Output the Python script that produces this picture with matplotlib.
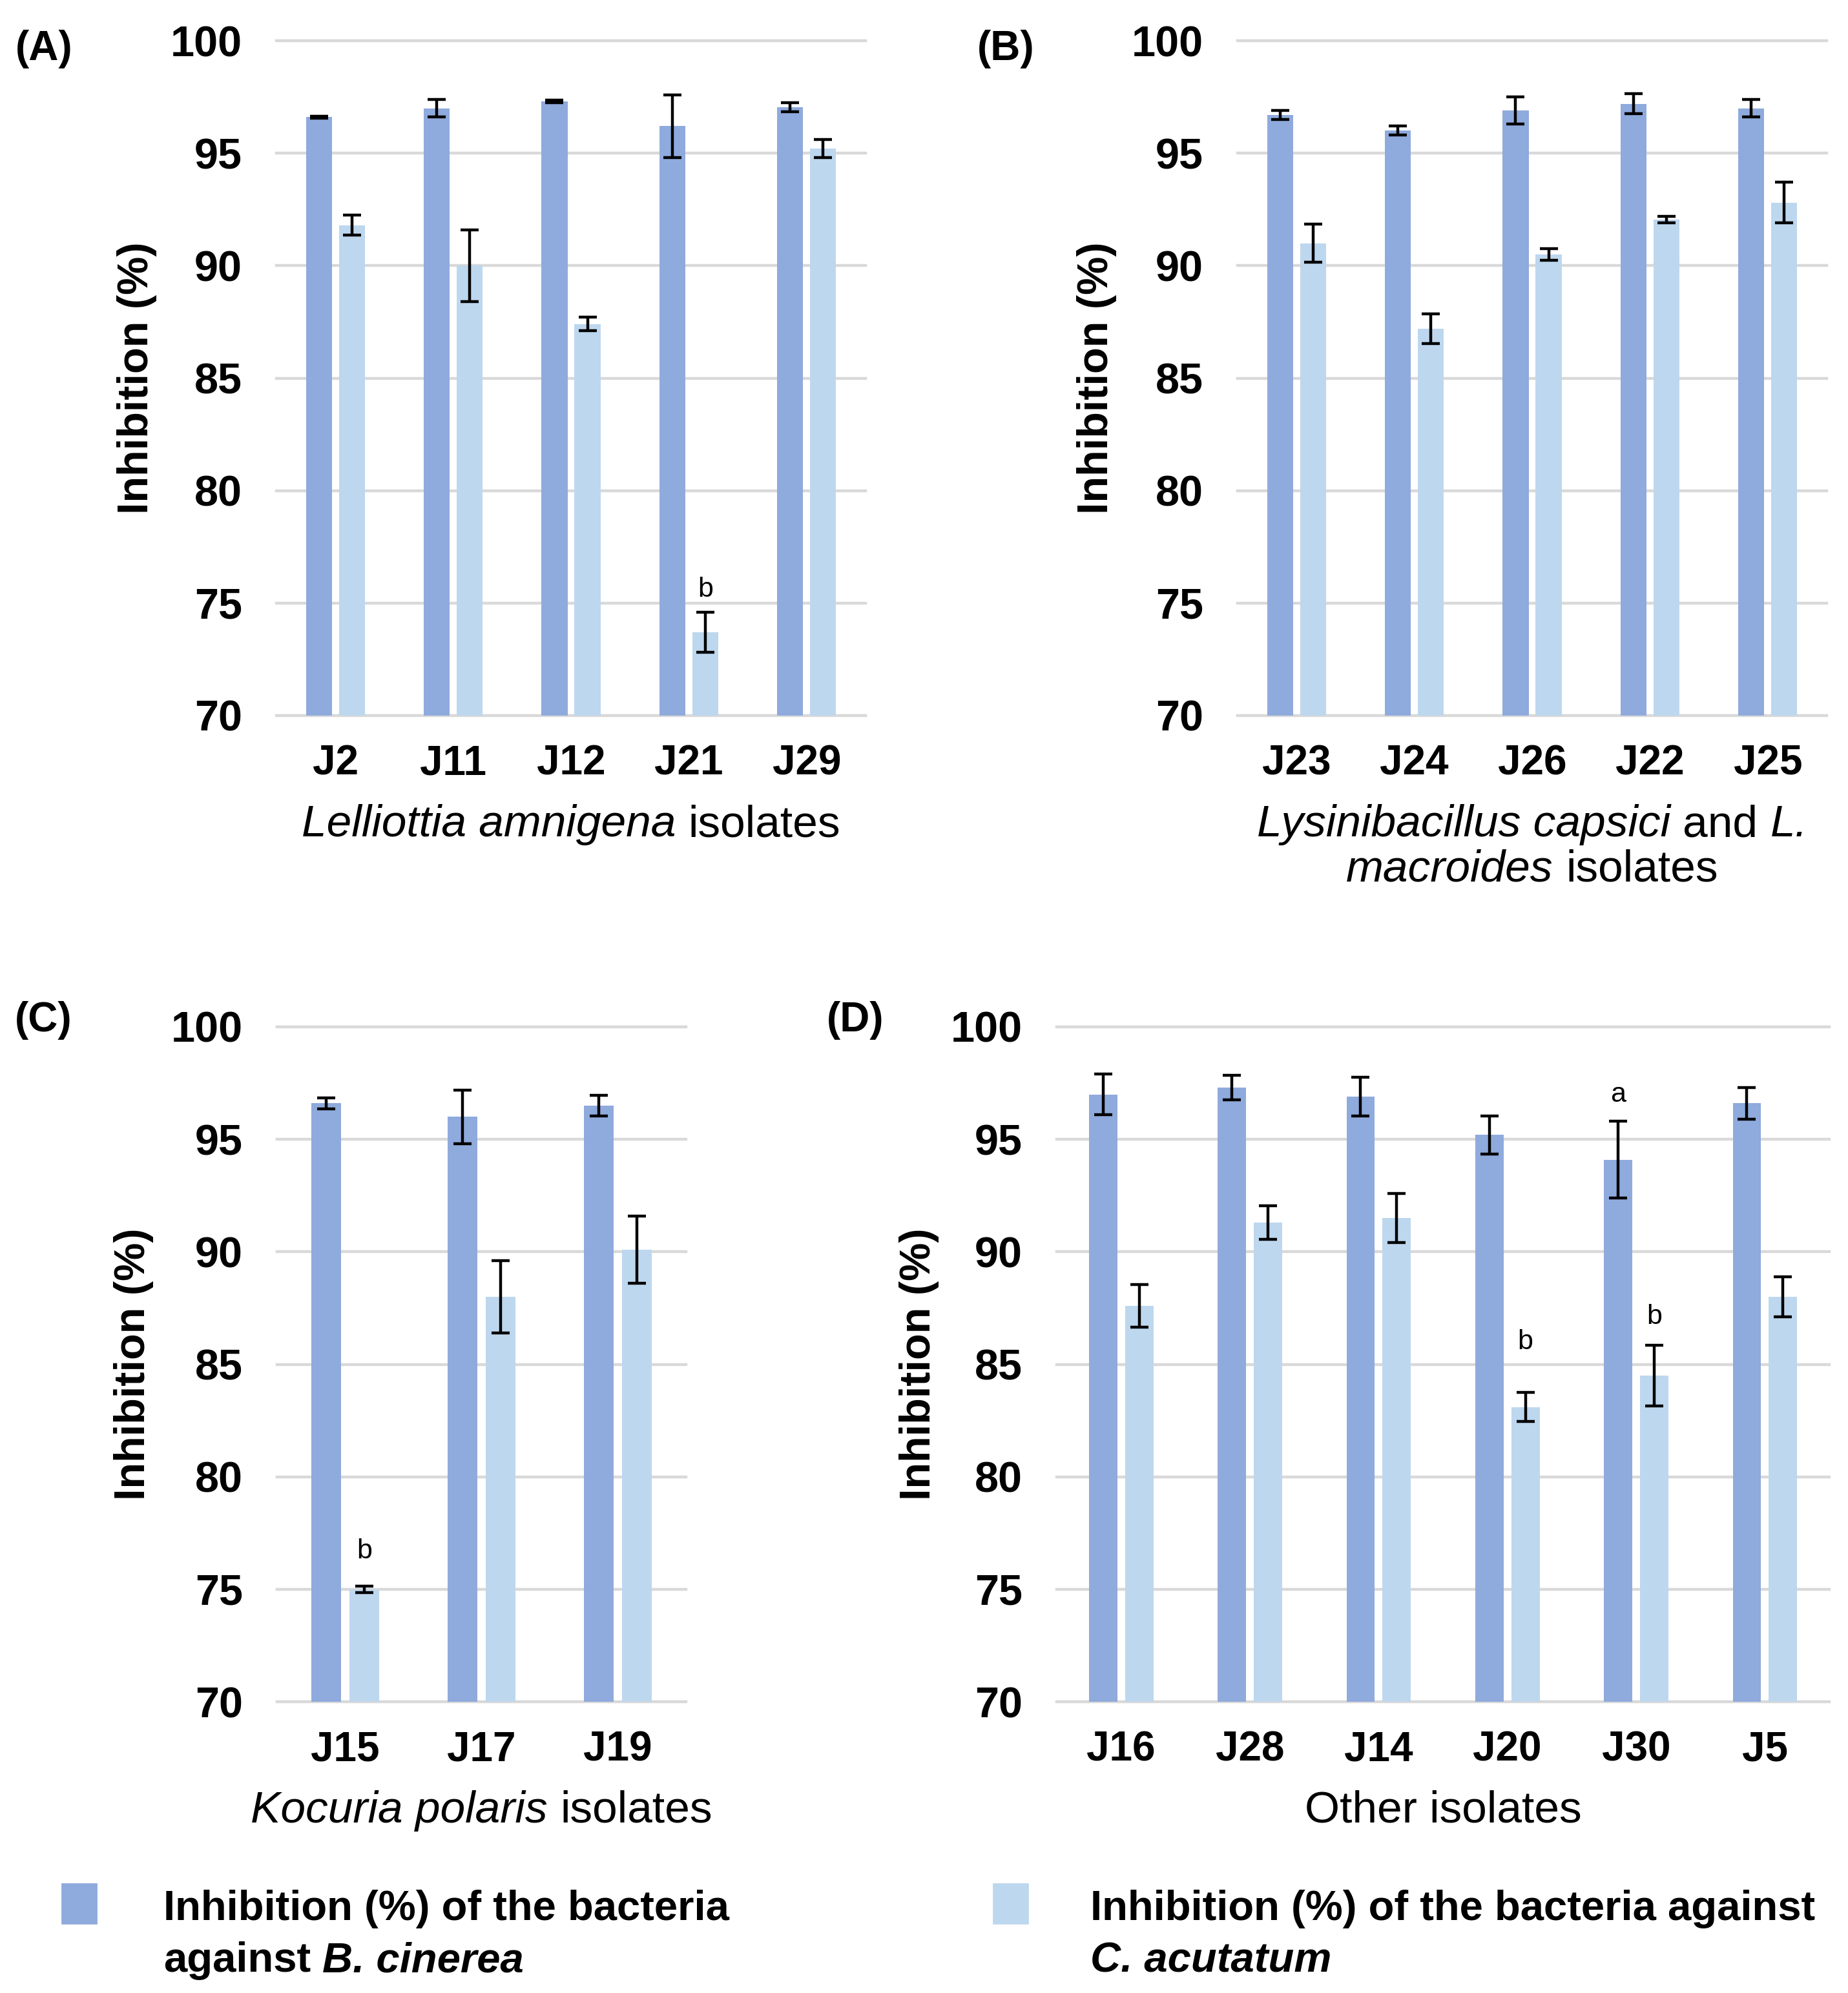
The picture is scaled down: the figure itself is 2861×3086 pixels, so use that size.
import matplotlib
matplotlib.use("Agg")
import matplotlib.pyplot as plt
import numpy as np
from matplotlib import font_manager
from matplotlib.patches import Rectangle

W_PX, H_PX, DPI = 2861, 3086, 200

DARK = "#8FAADC"
LIGHT = "#BDD7EE"
GRID = "#D9D9D9"

names = {f.name for f in font_manager.fontManager.ttflist}
SANS = "Liberation Sans"
NARROW = "Liberation Sans Narrow" if "Liberation Sans Narrow" in names else SANS

# ---- data ----
a_isolates = ["J2", "J11", "J12", "J21", "J29"]
a_bc = [96.6, 97.0, 97.3, 96.2, 97.05]
a_bc_err = [0.05, 0.4, 0.05, 1.4, 0.2]
a_ca = [91.8, 90.0, 87.4, 73.7, 95.2]
a_ca_err = [0.45, 1.6, 0.3, 0.9, 0.4]
a_letters = [(3, 1, "b", 75.6)]

b_isolates = ["J23", "J24", "J26", "J22", "J25"]
b_bc = [96.7, 96.0, 96.9, 97.2, 97.0]
b_bc_err = [0.2, 0.2, 0.6, 0.45, 0.4]
b_ca = [91.0, 87.2, 90.5, 92.05, 92.8]
b_ca_err = [0.85, 0.65, 0.25, 0.15, 0.9]
b_letters = []

c_isolates = ["J15", "J17", "J19"]
c_bc = [96.6, 96.0, 96.5]
c_bc_err = [0.25, 1.2, 0.45]
c_ca = [75.0, 88.0, 90.1]
c_ca_err = [0.15, 1.6, 1.5]
c_letters = [(0, 1, "b", 76.7)]

d_isolates = ["J16", "J28", "J14", "J20", "J30", "J5"]
d_bc = [97.0, 97.3, 96.9, 95.2, 94.1, 96.6]
d_bc_err = [0.9, 0.55, 0.85, 0.85, 1.7, 0.7]
d_ca = [87.6, 91.3, 91.5, 83.1, 84.5, 88.0]
d_ca_err = [0.95, 0.75, 1.1, 0.65, 1.35, 0.9]
d_letters = [(3, 1, "b", 86.0), (4, 0, "a", 97.0), (4, 1, "b", 87.1)]

a_xlabel = [[("Lelliottia amnigena", "italic"), ("isolates", "normal")]]
b_xlabel = [[("Lysinibacillus capsici", "italic"), ("and", "normal"), ("L.", "italic")],
            [("macroides", "italic"), ("isolates", "normal")]]
c_xlabel = [[("Kocuria polaris", "italic"), ("isolates", "normal")]]
d_xlabel = [[("Other isolates", "normal")]]

bc_label = [[("Inhibition (%) of the bacteria", "normal")],
            [("against", "normal"), ("B. cinerea", "italic")]]
ca_label = [[("Inhibition (%) of the bacteria against", "normal")],
            [("C. acutatum", "italic")]]


def fx(x):
    return x / W_PX


def fy(y):
    return 1 - y / H_PX


def rich_text(fig, x, yc, lines, size, weight, ha="center", line_gap=70):
    """Draw lines made of (text, style) pieces; x, yc in pixels (top-down)."""
    r = fig.canvas.get_renderer()
    size_px = size * DPI / 72
    for k, pieces in enumerate(lines):
        base = yc + k * line_gap + 0.36 * size_px
        objs = [fig.text(0, fy(base), s, fontsize=size, style=st, weight=weight,
                         family=SANS, va="baseline") for s, st in pieces]
        t1 = fig.text(0, 0, "x x", fontsize=size, weight=weight, family=SANS)
        t2 = fig.text(0, 0, "xx", fontsize=size, weight=weight, family=SANS)
        space = t1.get_window_extent(r).width - t2.get_window_extent(r).width
        t1.remove()
        t2.remove()
        widths = [o.get_window_extent(r).width for o in objs]
        total = sum(widths) + space * (len(objs) - 1)
        x0 = x - total / 2 if ha == "center" else x
        for o, w in zip(objs, widths):
            o.set_x(fx(x0))
            x0 += w + space


def draw_panel(fig, rect, tag, tag_xy, ylab_x, isolates, bc, bc_err, ca, ca_err,
               letters, xlabel):
    x0, y0, x1, y1 = rect
    ax = fig.add_axes([fx(x0), fy(y1), fx(x1 - x0), (y1 - y0) / H_PX])
    x = np.arange(len(isolates))
    w, off = 0.22, 0.14
    ekw = dict(elinewidth=1.6, capthick=1.6, ecolor="black")
    ax.bar(x - off, bc, w, yerr=bc_err, color=DARK, capsize=5, error_kw=ekw)
    ax.bar(x + off, ca, w, yerr=ca_err, color=LIGHT, capsize=5, error_kw=ekw)
    for i, s, letter, yv in letters:
        ax.text(i + (off if s else -off), yv, letter, ha="center", va="center",
                fontsize=15.5, family=SANS)
    ax.set_xlim(-0.5, len(isolates) - 0.5)
    ax.set_ylim(70, 100)
    ax.set_yticks(range(70, 101, 5))
    ax.set_xticks(x)
    ax.set_xticklabels(isolates, fontsize=23, weight="bold", family=NARROW)
    for t in ax.get_yticklabels():
        t.set_fontsize(24)
        t.set_fontweight("bold")
        t.set_family(NARROW)
    ax.yaxis.grid(True, color=GRID, lw=1.6)
    ax.set_axisbelow(True)
    for ln in ax.get_ygridlines():
        ln.set_clip_on(False)
    for sp in ax.spines.values():
        sp.set_visible(False)
    ax.tick_params(axis="both", length=0)
    ax.tick_params(axis="y", pad=19)
    ax.tick_params(axis="x", pad=16)
    fig.text(fx(ylab_x), fy((y0 + y1) / 2), "Inhibition (%)", rotation=90,
             ha="center", va="center", fontsize=24, weight="bold", family=SANS)
    fig.text(fx(tag_xy[0]), fy(tag_xy[1]), tag, ha="center", va="center",
             fontsize=23, weight="bold", family=SANS)
    rich_text(fig, (x0 + x1) / 2, y1 + 162, xlabel, 25, "normal")
    return ax


fig = plt.figure(figsize=(W_PX / DPI, H_PX / DPI), dpi=DPI)

draw_panel(fig, (428, 63, 1340, 1108), "(A)", (68, 76), 212,
           a_isolates, a_bc, a_bc_err, a_ca, a_ca_err, a_letters, a_xlabel)
draw_panel(fig, (1916, 63, 2828, 1108), "(B)", (1557, 76), 1698,
           b_isolates, b_bc, b_bc_err, b_ca, b_ca_err, b_letters, b_xlabel)
draw_panel(fig, (429, 1590, 1062, 2635), "(C)", (67, 1580), 207,
           c_isolates, c_bc, c_bc_err, c_ca, c_ca_err, c_letters, c_xlabel)
draw_panel(fig, (1636, 1590, 2832, 2635), "(D)", (1324, 1580), 1423,
           d_isolates, d_bc, d_bc_err, d_ca, d_ca_err, d_letters, d_xlabel)

# legend
for (sx, tx), color, label in [((96, 253), DARK, bc_label), ((1538, 1688), LIGHT, ca_label)]:
    fig.patches.append(Rectangle((fx(sx), fy(2978)), fx(53), 61 / H_PX, color=color,
                                 transform=fig.transFigure, figure=fig))
    rich_text(fig, tx, 2950, label, 23.5, "bold", ha="left", line_gap=80)

fig.savefig("out.png", dpi=DPI)
